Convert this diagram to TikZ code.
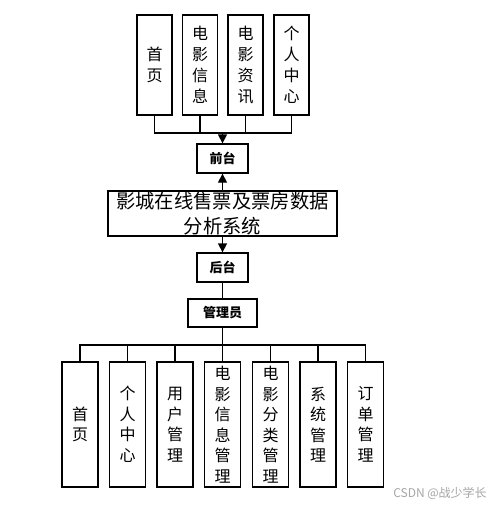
\documentclass[tikz,border=0pt]{standalone}
\usepackage{fontspec}
\newfontfamily\cjk{Noto Sans CJK SC}
\usetikzlibrary{arrows.meta}
\begin{document}
\begin{tikzpicture}[x=1pt,y=-1pt,
  line width=1.3pt,
  tbox/.style={draw, fill=white, minimum width=35pt, minimum height=100pt, inner sep=0pt, align=center, font=\cjk\fontsize{16}{21}\selectfont},
  bbox/.style={draw, fill=white, minimum width=36pt, minimum height=125pt, inner sep=0pt, align=center, font=\cjk\fontsize{16}{20.5}\selectfont},
  sbox/.style={draw, fill=white, minimum height=29pt, inner sep=0pt, font=\cjk\bfseries\fontsize{13}{15}\selectfont},
  arr/.style={-{Triangle[length=9pt,width=9pt]}}
]
\useasboundingbox (0,0) rectangle (499,507);
\fill[white] (0,0) rectangle (499,507);
% top boxes
\node[tbox] (t1) at (154.5,65) {首\\页};
\node[tbox] (t2) at (200,65) {电\\影\\信\\息};
\node[tbox] (t3) at (245.5,65) {电\\影\\资\\讯};
\node[tbox] (t4) at (291.5,65) {个\\人\\中\\心};
\node[sbox, minimum width=51pt] (qt) at (222.5,158.5) {前台};
\node[draw, fill=white, minimum width=229pt, minimum height=45pt, inner sep=0pt, align=center, font=\cjk\fontsize{19.3}{25}\selectfont] (main) at (222.5,213.5) {影城在线售票及票房数据\\分析系统};
\node[sbox, minimum width=51pt] (ht) at (222.5,267.5) {后台};
\node[sbox, minimum width=69pt, minimum height=28pt] (gl) at (222.5,313) {管理员};
% bottom boxes
\node[bbox] (b1) at (80,424.5) {首\\页};
\node[bbox] (b2) at (127.5,424.5) {个\\人\\中\\心};
\node[bbox] (b3) at (175,424.5) {用\\户\\管\\理};
\node[bbox] (b4) at (222.5,424.5) {电\\影\\信\\息\\管\\理};
\node[bbox] (b5) at (270.5,424.5) {电\\影\\分\\类\\管\\理};
\node[bbox] (b6) at (318,424.5) {系\\统\\管\\理};
\node[bbox] (b7) at (365.5,424.5) {订\\单\\管\\理};
% connectors top
\coordinate (ba) at (222.5,133);
\draw (t1.south) |- (ba) -| (t4.south);
\draw (t2.south) -- (t2.south |- ba);
\draw (t3.south) -- (t3.south |- ba);
\draw[arr] (ba) -- (qt.north);
\draw[arr] (main.north) -- (qt.south);
\draw[arr] (main.south) -- (ht.north);
\draw (ht.south) -- (gl.north);
% connectors bottom
\coordinate (bb) at (222.5,345);
\draw (gl.south) -- (bb);
\draw (b1.north) |- (bb) -| (b7.north);
\foreach \b in {b2,b3,b4,b5,b6}{\draw (\b.north) -- (\b.north |- bb);}
% watermark
\node[text=gray!70, font=\cjk\fontsize{12}{14}\selectfont, inner sep=0pt] (wm) at (440,493) {CSDN @战少学长};
\end{tikzpicture}
\end{document}
